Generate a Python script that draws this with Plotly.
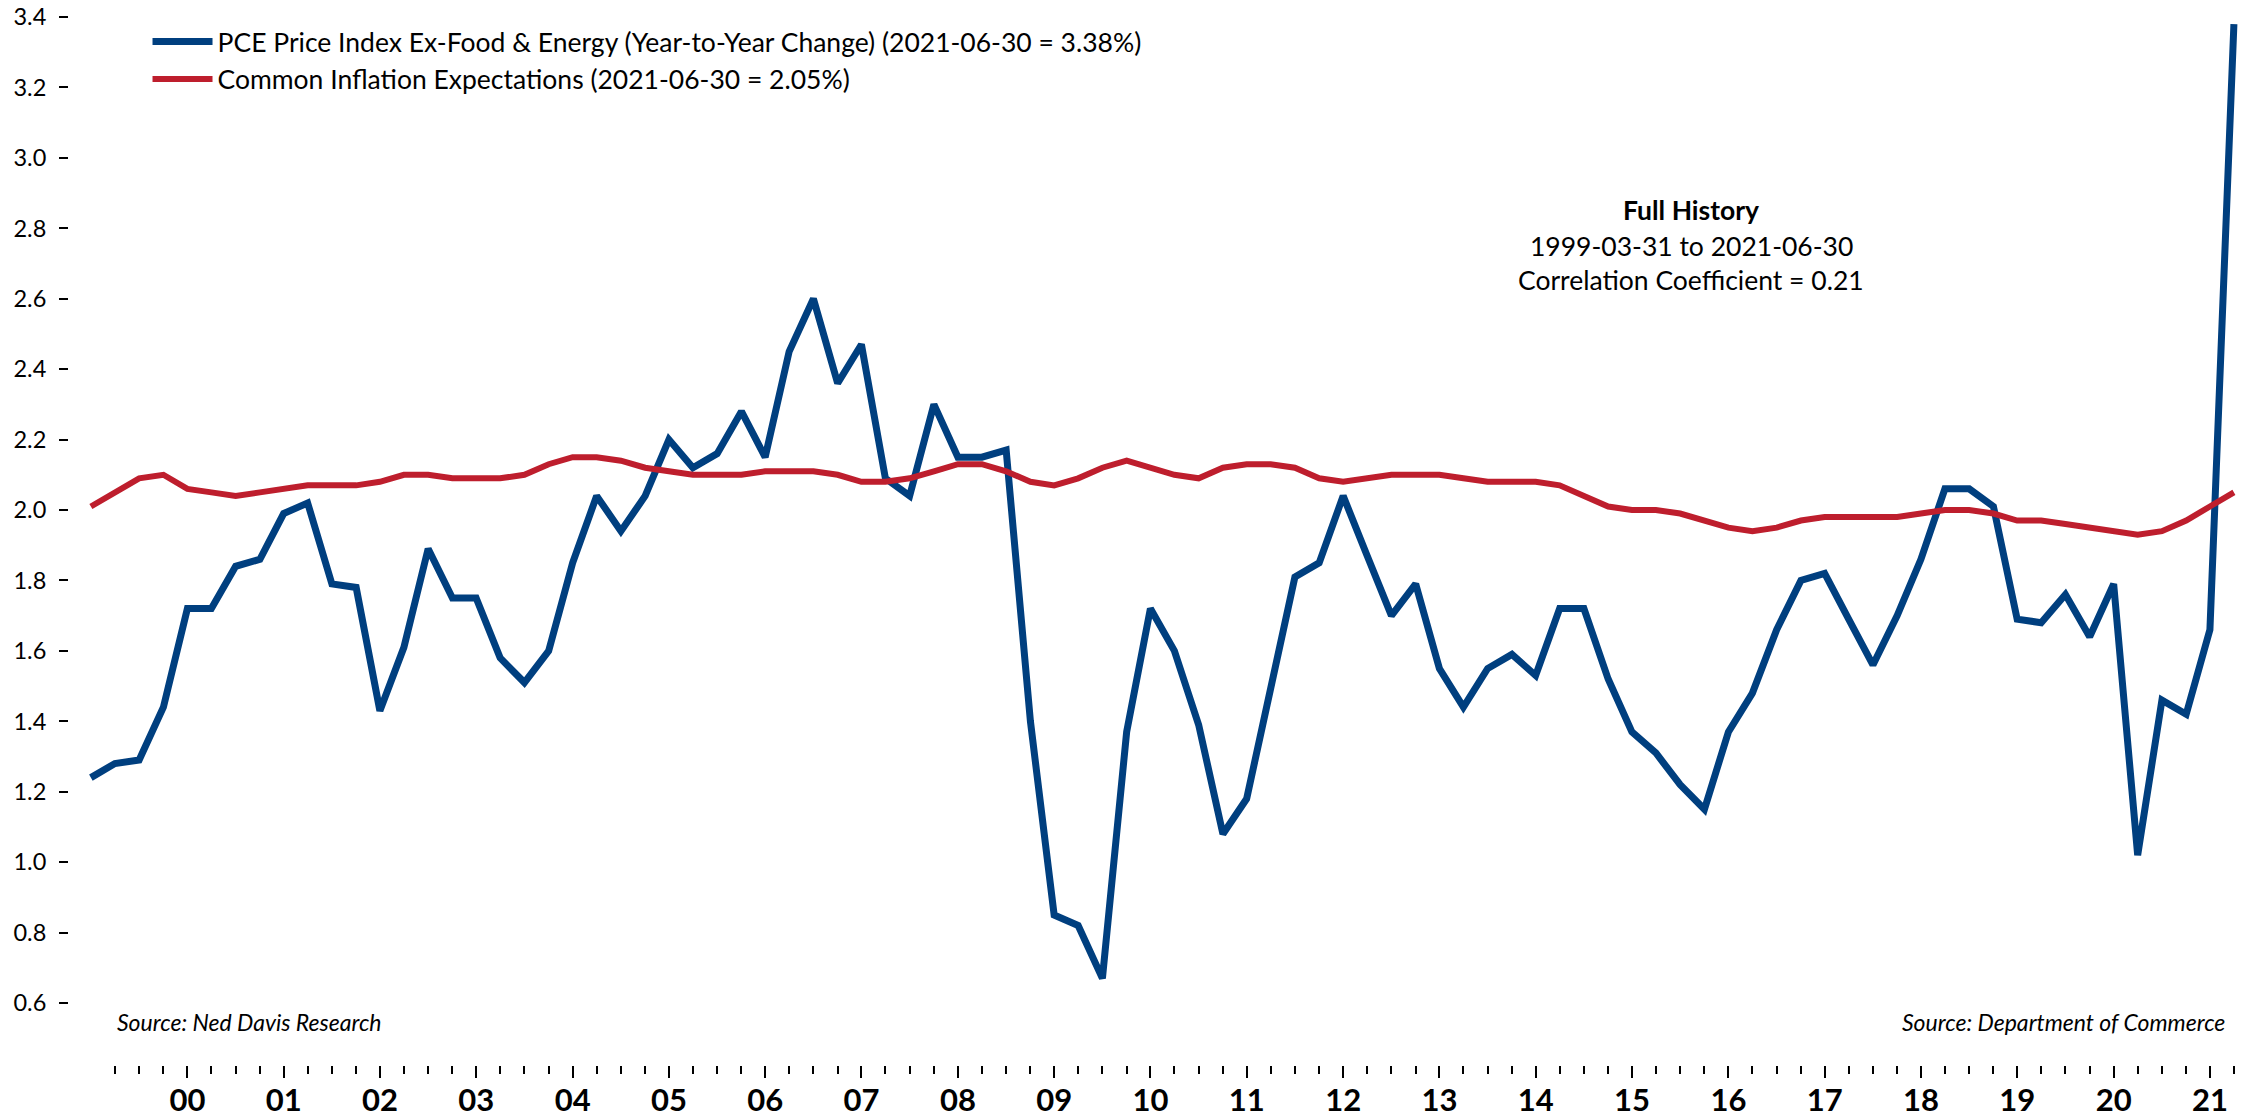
import plotly.graph_objects as go

# ---- data (quarter-end, 1999-03-31 .. 2021-06-30) ----
years = list(range(1999, 2022))
quarter_ends = ["03-31", "06-30", "09-30", "12-31"]
dates = [f"{y}-{q}" for y in years for q in quarter_ends][:90]

pce_core_yoy = [
    1.24, 1.28, 1.29, 1.44, 1.72, 1.72, 1.84, 1.86, 1.99, 2.02, 1.79, 1.78,
    1.43, 1.61, 1.89, 1.75, 1.75, 1.58, 1.51, 1.60, 1.85, 2.04, 1.94, 2.04,
    2.20, 2.12, 2.16, 2.28, 2.15, 2.45, 2.60, 2.36, 2.47, 2.09, 2.04, 2.30,
    2.15, 2.15, 2.17, 1.40, 0.85, 0.82, 0.67, 1.37, 1.72, 1.60, 1.39,
    1.08, 1.18, 1.49, 1.81, 1.85, 2.04, 1.87, 1.70, 1.79, 1.55, 1.44, 1.55,
    1.59, 1.53, 1.72, 1.72, 1.52, 1.37, 1.31, 1.22, 1.15, 1.37, 1.48,
    1.66, 1.80, 1.82, 1.69, 1.56, 1.70, 1.86, 2.06, 2.06, 2.01, 1.69, 1.68,
    1.76, 1.64, 1.79, 1.02, 1.46, 1.42, 1.66, 3.38,
]
inflation_expectations = [
    2.01, 2.05, 2.09, 2.10, 2.06, 2.05, 2.04, 2.05, 2.06, 2.07, 2.07, 2.07,
    2.08, 2.10, 2.10, 2.09, 2.09, 2.09, 2.10, 2.13, 2.15, 2.15, 2.14, 2.12,
    2.11, 2.10, 2.10, 2.10, 2.11, 2.11, 2.11, 2.10, 2.08, 2.08, 2.09, 2.11,
    2.13, 2.13, 2.11, 2.08, 2.07, 2.09, 2.12, 2.14, 2.12, 2.10, 2.09,
    2.12, 2.13, 2.13, 2.12, 2.09, 2.08, 2.09, 2.10, 2.10, 2.10, 2.09, 2.08,
    2.08, 2.08, 2.07, 2.04, 2.01, 2.00, 2.00, 1.99, 1.97, 1.95, 1.94,
    1.95, 1.97, 1.98, 1.98, 1.98, 1.98, 1.99, 2.00, 2.00, 1.99, 1.97, 1.97,
    1.96, 1.95, 1.94, 1.93, 1.94, 1.97, 2.01, 2.05,
]

y_ticks = [0.6, 0.8, 1.0, 1.2, 1.4, 1.6, 1.8, 2.0, 2.2, 2.4, 2.6, 2.8, 3.0, 3.2, 3.4]
year_tick_dates = [f"{y}-03-31" for y in range(2000, 2022)]
year_tick_labels = [f"{y % 100:02d}" for y in range(2000, 2022)]
minor_tick_dates = dates[1:]

BLUE = "#003F7F"
RED = "#BE1E2D"
FONT = "Lato"

fig = go.Figure()
fig.add_trace(go.Scatter(
    x=dates, y=pce_core_yoy, mode="lines",
    name="PCE Price Index Ex-Food & Energy (Year-to-Year Change) (2021-06-30 = 3.38%)",
    line=dict(color=BLUE, width=7), legendgroup="a",
))
fig.add_trace(go.Scatter(
    x=dates, y=inflation_expectations, mode="lines",
    name="Common Inflation Expectations (2021-06-30 = 2.05%)",
    line=dict(color=RED, width=6), legendgroup="b",
))

fig.update_layout(
    width=2256, height=1119,
    margin=dict(l=69, r=6, t=5, b=54),
    paper_bgcolor="white", plot_bgcolor="white",
    font=dict(family=FONT, color="black", size=22),
    showlegend=True,
    legend=dict(
        x=0.036, y=0.988, xanchor="left", yanchor="top",
        font=dict(family=FONT, size=26.5, color="black"),
        bgcolor="rgba(0,0,0,0)", tracegroupgap=0, itemwidth=60,
    ),
    xaxis=dict(
        type="date", range=["1999-01-07", "2021-08-30"], automargin=False,
        showgrid=False, zeroline=False, showline=False,
        tickmode="array", tickvals=year_tick_dates, ticktext=year_tick_labels,
        ticks="outside", ticklen=12, tickwidth=2, tickcolor="black",
        tickfont=dict(family=FONT, size=31, weight="bold", color="black"),
        ticklabelstandoff=-4,
        minor=dict(tickmode="array", tickvals=minor_tick_dates, ticks="outside",
                   ticklen=8, tickwidth=2, tickcolor="black", showgrid=False),
    ),
    yaxis=dict(
        range=[0.424, 3.434], automargin=False,
        showgrid=False, zeroline=False, showline=False,
        tickmode="array", tickvals=y_ticks, ticktext=[f"{v:.1f}" for v in y_ticks],
        ticks="outside", ticklen=9, tickwidth=2, tickcolor="black",
        tickfont=dict(family=FONT, size=23.5, color="black"),
        ticklabelstandoff=8,
    ),
    annotations=[
        dict(text="<b>Full History</b>", x=0.7437, y=0.8066, xref="paper", yref="paper",
             showarrow=False, xanchor="center", yanchor="middle",
             font=dict(family=FONT, size=26.5, color="black")),
        dict(text="1999-03-31 to 2021-06-30", x=0.7437, y=0.7726, xref="paper", yref="paper",
             showarrow=False, xanchor="center", yanchor="middle",
             font=dict(family=FONT, size=26.5, color="black")),
        dict(text="Correlation Coefficient = 0.21", x=0.7437, y=0.7406, xref="paper", yref="paper",
             showarrow=False, xanchor="center", yanchor="middle",
             font=dict(family=FONT, size=26.5, color="black")),
        dict(text="<i>Source: Ned Davis Research</i>", x=0.0211, y=0.0406, xref="paper", yref="paper",
             showarrow=False, xanchor="left", yanchor="middle",
             font=dict(family=FONT, size=23, color="black")),
        dict(text="<i>Source: Department of Commerce</i>", x=0.9894, y=0.0406, xref="paper", yref="paper",
             showarrow=False, xanchor="right", yanchor="middle",
             font=dict(family=FONT, size=23, color="black")),
    ],
)

fig.write_html("out.html", config={"displayModeBar": False},
               post_script="document.body.style.margin='0';")
